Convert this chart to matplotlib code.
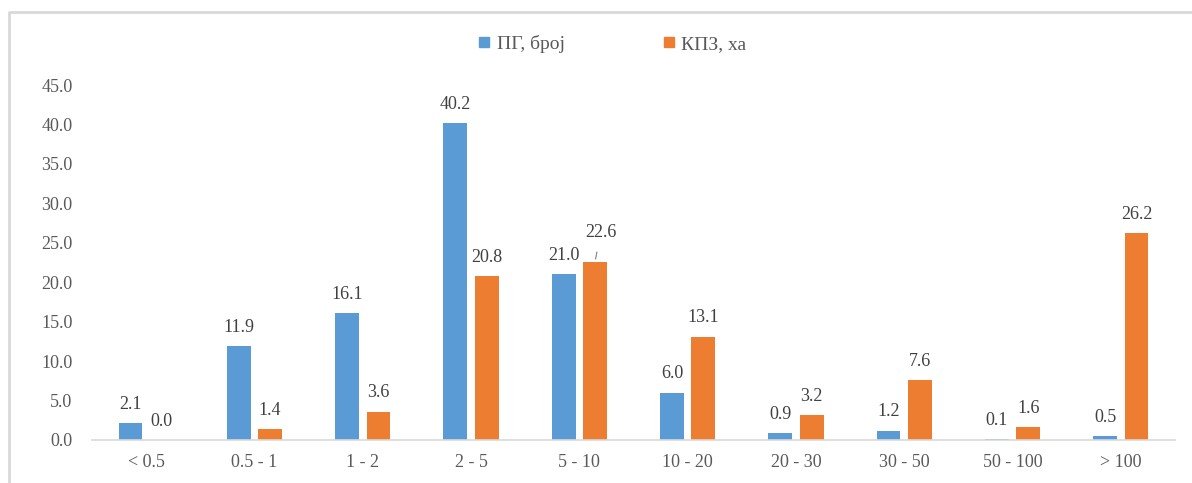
import matplotlib.pyplot as plt
import numpy as np
from matplotlib.lines import Line2D

# data
categories = ['< 0.5', '0.5 - 1', '1 - 2', '2 - 5', '5 - 10', '10 - 20', '20 - 30', '30 - 50', '50 - 100', '> 100']
pg_count = [2.1, 11.9, 16.1, 40.2, 21.0, 6.0, 0.9, 1.2, 0.1, 0.5]
kpz_ha = [0.0, 1.4, 3.6, 20.8, 22.6, 13.1, 3.2, 7.6, 1.6, 26.2]
series_names = ['ПГ, број', 'КПЗ, ха']

blue = '#5B9BD5'
orange = '#ED7D31'
plt.rcParams['font.family'] = ['Liberation Serif', 'DejaVu Serif']

W, H = 1192, 483
fig = plt.figure(figsize=(W / 100, H / 100), dpi=100)
ax = fig.add_axes([92 / W, 1 - 440 / H, (1175 - 92) / W, (440 - 85) / H])

x = np.arange(len(categories))
width = 0.22
off = 0.145
ax.bar(x - off, pg_count, width, color=blue)
ax.bar(x + off, kpz_ha, width, color=orange)

# data labels
lab = dict(ha='center', va='center', fontsize=13, color='#404040')
for xi, v in zip(x, pg_count):
    ax.annotate(f'{v:.1f}', (xi - off, v), xytext=(0, 13.5), textcoords='offset points', **lab)
for i, (xi, v) in enumerate(zip(x, kpz_ha)):
    if categories[i] == '5 - 10':
        ax.annotate(f'{v:.1f}', (xi + off, v), xytext=(4, 21), textcoords='offset points',
                    arrowprops=dict(arrowstyle='-', color='#7f7f7f', lw=0.8, shrinkA=6, shrinkB=2), **lab)
    else:
        ax.annotate(f'{v:.1f}', (xi + off, v), xytext=(0, 13.5), textcoords='offset points', **lab)

ax.set_xlim(-0.5, len(categories) - 0.5)
ax.set_ylim(0, 45)
ax.set_yticks(np.arange(0, 46, 5))
ax.set_yticklabels([f'{t:.1f}' for t in np.arange(0, 46, 5)])
ax.set_xticks(x)
ax.set_xticklabels(categories)
ax.tick_params(axis='both', length=0, labelsize=13, labelcolor='#595959')
ax.tick_params(axis='y', pad=14)
ax.tick_params(axis='x', pad=10)
for s in ['top', 'right', 'left']:
    ax.spines[s].set_visible(False)
ax.spines['bottom'].set_color('#d9d9d9')
ax.spines['bottom'].set_linewidth(1.2)

# legend
handles = [Line2D([], [], marker='s', linestyle='none', markersize=7, color=c) for c in (blue, orange)]
fig.legend(handles, series_names, loc='center', bbox_to_anchor=(612 / W, 1 - 44 / H), ncol=2,
           frameon=False, fontsize=14, handlelength=0.7, handletextpad=0.3, columnspacing=5.0,
           labelcolor='#595959')

# chart border (top and left visible)
fig.add_artist(Line2D([9 / W, 9 / W, 1.0], [0.0, 1 - 12 / H, 1 - 12 / H], transform=fig.transFigure,
                      color='#d9d9d9', lw=2))

fig.savefig('out.png', dpi=100)
